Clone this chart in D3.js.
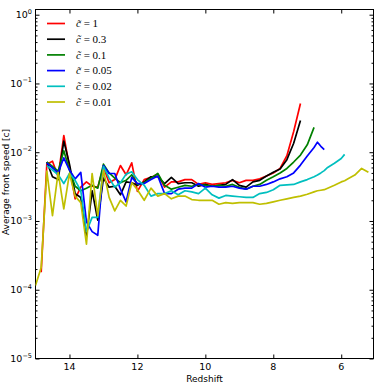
<!DOCTYPE html>
<html>
<head>
<meta charset="utf-8">
<script src="https://cdn.jsdelivr.net/npm/d3@7"></script>
<style>
body { margin: 0; background: #fff; }
svg { display: block; }
</style>
</head>
<body>
<div id="chart"></div>
<script>
// redshift samples shared by all runs (null = run has no value there)
const redshift = [15.0, 14.833, 14.667, 14.5, 14.333, 14.167, 14.0, 13.833, 13.667, 13.5,
    13.333, 13.167, 13.0, 12.833, 12.667, 12.5, 12.333, 12.167, 12.0, 11.8,
    11.6, 11.4, 11.2, 11.0, 10.8, 10.6, 10.4, 10.2, 10.0, 9.8,
    9.6, 9.4, 9.2, 9.0, 8.8, 8.6, 8.4, 8.2, 8.0, 7.8,
    7.6, 7.4, 7.2, 7.0, 6.8, 6.7, 6.6, 6.5, 6.4, 6.2,
    6.0, 5.9, 5.8, 5.6, 5.4, 5.2];

const speedC1 = [null, 1.8e-4, 6.7e-3, 7.4e-3, 4.4e-3, 1.75e-2, 6.1e-3, 2.1e-3, 3.1e-3, 3.7e-3,
    3.2e-3, 3.1e-3, 6.1e-3, 3.6e-3, 4.0e-3, 6.4e-3, 4.7e-3, 7.0e-3, 2.7e-3, 4.0e-3,
    4.3e-3, 4.8e-3, 3.1e-3, 3.7e-3, 3.7e-3, 4.0e-3, 4.0e-3, 3.4e-3, 3.6e-3, 3.4e-3,
    3.5e-3, 3.6e-3, 3.9e-3, 3.6e-3, 3.9e-3, 3.9e-3, 4.1e-3, 4.5e-3, 5.0e-3, 5.8e-3,
    8.9e-3, 2.0e-2, 5.1e-2, null, null, null, null, null, null, null,
    null, null, null, null, null, null];

const speedC03 = [null, null, 7.2e-3, 4.4e-3, 4.0e-3, 1.45e-2, 6.7e-3, 2.5e-3, 2.2e-3, 5.9e-4,
    2.75e-3, 1.03e-3, 4.2e-3, 3.1e-3, 3.2e-3, 2.4e-3, 3.7e-3, 3.6e-3, 3.3e-3, 3.7e-3,
    4.4e-3, 4.4e-3, 3.5e-3, 4.3e-3, 3.5e-3, 3.6e-3, 3.6e-3, 3.2e-3, 3.4e-3, 3.2e-3,
    3.3e-3, 3.4e-3, 4.0e-3, 3.3e-3, 3.1e-3, 3.7e-3, 3.9e-3, 4.5e-3, 5.1e-3, 5.7e-3,
    7.8e-3, 1.35e-2, 2.9e-2, null, null, null, null, null, null, null,
    null, null, null, null, null, null];

const speedC01 = [null, null, 7.2e-3, 6.2e-3, 5.3e-3, 1.05e-2, 5.5e-3, 3.2e-3, 2.75e-3, 3.0e-3,
    3.3e-3, 3.0e-3, 6.7e-3, 5.0e-3, 4.2e-3, 3.6e-3, 3.9e-3, 4.7e-3, 3.4e-3, 3.6e-3,
    4.2e-3, 4.9e-3, 3.3e-3, 2.9e-3, 3.1e-3, 3.3e-3, 3.2e-3, 3.4e-3, 3.3e-3, 3.2e-3,
    3.3e-3, 3.2e-3, 3.4e-3, 3.1e-3, 2.9e-3, 3.2e-3, 3.4e-3, 3.9e-3, 4.4e-3, 5.0e-3,
    5.8e-3, 7.2e-3, 9.1e-3, 1.28e-2, 2.3e-2, null, null, null, null, null,
    null, null, null, null, null, null];

const speedC005 = [null, null, 7.0e-3, 5.9e-3, 5.0e-3, 8.3e-3, 5.5e-3, 4.1e-3, 5.1e-3, 9.7e-4,
    7.0e-4, 6.2e-4, 6.4e-3, 4.9e-3, 4.9e-3, 2.9e-3, 1.9e-3, 4.3e-3, 3.5e-3, 3.5e-3,
    4.0e-3, 4.5e-3, 2.5e-3, 2.5e-3, 2.9e-3, 3.0e-3, 3.0e-3, 3.5e-3, 3.1e-3, 3.2e-3,
    3.1e-3, 3.1e-3, 3.2e-3, 3.0e-3, 2.9e-3, 3.2e-3, 3.2e-3, 3.4e-3, 3.7e-3, 4.1e-3,
    4.4e-3, 5.0e-3, 6.5e-3, 8.8e-3, 1.17e-2, 1.4e-2, 1.22e-2, 1.09e-2, null, null,
    null, null, null, null, null, null];

const speedC002 = [null, null, 6.4e-3, 5.5e-3, 4.7e-3, 3.5e-3, 4.9e-3, 3.9e-3, 2.75e-3, 7.0e-4,
    1.13e-3, 1.13e-3, 6.2e-3, 4.2e-3, 3.1e-3, 3.6e-3, 4.8e-3, 5.2e-3, 4.0e-3, 3.3e-3,
    2.3e-3, 2.5e-3, 2.5e-3, 2.75e-3, 2.4e-3, 2.75e-3, 2.65e-3, 2.5e-3, 3.0e-3, 2.4e-3,
    2.15e-3, 2.35e-3, 2.3e-3, 2.25e-3, 2.2e-3, 2.2e-3, 2.5e-3, 2.6e-3, 2.85e-3, 3.3e-3,
    3.35e-3, 3.4e-3, 3.7e-3, 4.0e-3, 4.4e-3, 4.65e-3, 5.0e-3, 5.4e-3, 6.0e-3, 6.9e-3,
    8.1e-3, 9.3e-3, null, null, null, null];

const speedC001 = [1.15e-4, 2.1e-4, 5.3e-3, 1.2e-3, 5.1e-3, 1.5e-3, 4.9e-3, 2.3e-3, 1.85e-3, 4.6e-4,
    4.9e-3, 1.2e-3, 5.5e-3, 2.2e-3, 1.4e-3, 2.0e-3, 1.65e-3, 3.6e-3, 2.85e-3, 2.0e-3,
    3.0e-3, 2.3e-3, 2.5e-3, 2.1e-3, 2.3e-3, 2.3e-3, 2.05e-3, 2.0e-3, 2.0e-3, 2.0e-3,
    1.75e-3, 1.85e-3, 1.8e-3, 1.85e-3, 1.85e-3, 1.85e-3, 1.75e-3, 1.8e-3, 1.9e-3, 2.0e-3,
    2.1e-3, 2.2e-3, 2.3e-3, 2.45e-3, 2.65e-3, 2.75e-3, 2.8e-3, 2.85e-3, 3.0e-3, 3.3e-3,
    3.7e-3, 3.85e-3, 4.1e-3, 4.65e-3, 5.8e-3, 5.1e-3];

const cTildeLabels = ["1", "0.3", "0.1", "0.05", "0.02", "0.01"];
const xTickValues = [14, 12, 10, 8, 6];
const yTickExponents = [0, -1, -2, -3, -4, -5];

const allSpeeds = [speedC1, speedC03, speedC01, speedC005, speedC002, speedC001];
const lineColors = ["#ff0000", "#000000", "#008000", "#0000ff", "#00bfbf", "#bfbf00"];

const chart = setupChart();
drawLines(chart);
drawLegend(chart.svg);

function setupChart() {
    const width = 374, height = 386;
    const plot = {left: 35.5, right: 373.5, top: 9.5, bottom: 358.5};

    const svg = d3.select("#chart").append("svg")
        .attr("width", width)
        .attr("height", height)
        .style("font-family", "'DejaVu Sans', sans-serif");

    const xscale = d3.scaleLinear().domain([15, 5.05]).range([plot.left, plot.right]);
    const yscale = d3.scaleLog().domain([1e-5, 1.19]).range([plot.bottom, plot.top]);

    const majorY = yTickExponents.map(e => Math.pow(10, e));
    const minorY = [];
    yTickExponents.forEach(e => {
        for (let k = 2; k <= 9; k++) {
            const v = k * Math.pow(10, e);
            if (v < 1.19) minorY.push(v);
        }
    });

    // ticks point inward on all four sides
    const axes = [
        [d3.axisBottom(xscale).tickValues(xTickValues).tickSizeInner(-4), `translate(0,${plot.bottom})`],
        [d3.axisTop(xscale).tickValues(xTickValues).tickSizeInner(-4), `translate(0,${plot.top})`],
        [d3.axisLeft(yscale).tickValues(majorY).tickSizeInner(-4), `translate(${plot.left},0)`],
        [d3.axisLeft(yscale).tickValues(minorY).tickSizeInner(-2), `translate(${plot.left},0)`],
        [d3.axisRight(yscale).tickValues(majorY).tickSizeInner(-4), `translate(${plot.right},0)`],
        [d3.axisRight(yscale).tickValues(minorY).tickSizeInner(-2), `translate(${plot.right},0)`]
    ];
    axes.forEach(([axis, tr]) => {
        const g = svg.append("g")
            .attr("transform", tr)
            .call(axis.tickSizeOuter(0).tickFormat(""));
        g.select(".domain").remove();
        g.selectAll("line").attr("stroke", "#000").attr("stroke-width", 1);
    });

    // x tick labels
    svg.append("g").selectAll("text")
        .data(xTickValues)
        .enter()
        .append("text")
        .attr("x", d => xscale(d))
        .attr("y", 370)
        .attr("text-anchor", "middle")
        .style("font-size", "9.5px")
        .text(d => d);

    // y tick labels 10^n
    const ylab = svg.append("g").selectAll("text")
        .data(yTickExponents)
        .enter()
        .append("text")
        .attr("x", 32)
        .attr("y", d => yscale(Math.pow(10, d)) + 3.5)
        .attr("text-anchor", "end")
        .style("font-size", "9.5px");
    ylab.append("tspan").text("10");
    ylab.append("tspan")
        .attr("dy", -4.5)
        .style("font-size", "6.5px")
        .text(d => d === 0 ? "0" : "\u2212" + Math.abs(d));

    svg.append("rect")
        .attr("x", plot.left)
        .attr("y", plot.top)
        .attr("width", plot.right - plot.left)
        .attr("height", plot.bottom - plot.top)
        .attr("fill", "none")
        .attr("stroke", "#000")
        .attr("stroke-width", 1);

    svg.append("text")
        .attr("x", (plot.left + plot.right) / 2)
        .attr("y", 382)
        .attr("text-anchor", "middle")
        .style("font-size", "9px")
        .text("Redshift");

    svg.append("text")
        .attr("transform", `translate(9,${(plot.top + plot.bottom) / 2 - 2}) rotate(-90)`)
        .attr("text-anchor", "middle")
        .style("font-size", "9px")
        .text("Average front speed [c]");

    svg.append("clipPath").attr("id", "plotclip")
        .append("rect")
        .attr("x", plot.left)
        .attr("y", plot.top)
        .attr("width", plot.right - plot.left)
        .attr("height", plot.bottom - plot.top);

    return {svg, xscale, yscale};
}

function drawLines({svg, xscale, yscale}) {
    const line = d3.line()
        .defined(d => d.v != null)
        .x(d => xscale(d.z))
        .y(d => yscale(d.v));

    const g = svg.append("g").attr("clip-path", "url(#plotclip)");
    allSpeeds.forEach((speeds, i) => {
        const pts = redshift.map((z, j) => ({z: z, v: speeds[j]}));
        g.append("path")
            .datum(pts)
            .attr("d", line)
            .attr("fill", "none")
            .attr("stroke", lineColors[i])
            .attr("stroke-width", 1.7)
            .attr("stroke-linejoin", "round");
    });
}

function drawLegend(svg) {
    const legend = svg.append("g")
        .attr("transform", "translate(47, 23.5)");

    cTildeLabels.forEach((label, i) => {
        const item = legend.append("g")
            .attr("transform", `translate(0, ${i * 15.7})`);

        item.append("line")
            .attr("x1", 0)
            .attr("x2", 18)
            .attr("stroke", lineColors[i])
            .attr("stroke-width", 1.7);

        const t = item.append("text")
            .attr("x", 29)
            .attr("y", 3.8)
            .style("font-family", "'Liberation Serif', serif")
            .style("font-size", "11px");
        t.append("tspan").style("font-style", "italic").text("c\u0303");
        t.append("tspan").text(" = " + label);
    });
}
</script>
</body>
</html>
